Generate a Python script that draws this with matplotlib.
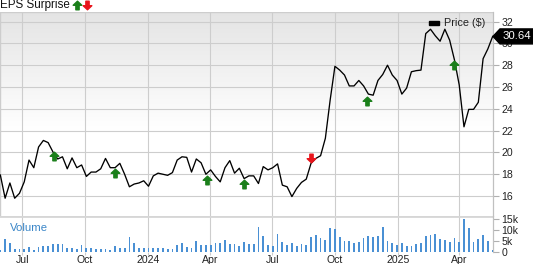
import numpy as np
import pandas as pd
import matplotlib
matplotlib.use("Agg")
import matplotlib.pyplot as plt
import matplotlib.dates as mdates
from matplotlib.path import Path
from matplotlib.patches import Polygon, Rectangle
from matplotlib.lines import Line2D

plt.rcParams['font.family'] = ['Liberation Sans', 'DejaVu Sans']

# ---------------- data ----------------
start_date = "2023-05-30"
price = [17.93, 15.8, 17.2, 15.8, 16.25, 17.3, 19.3, 18.6, 20.5, 21.1, 20.9, 20.05, 19.4, 19.6,
         18.5, 19.5, 18.6, 18.85, 17.8, 18.2, 18.2, 18.5, 19.45, 18.6, 18.6, 19.0, 18.0, 16.85, 17.1,
         17.2, 17.4, 16.9, 17.85, 18.1, 18.0, 17.9, 18.15, 19.3, 19.6, 19.55, 18.2, 19.4, 19.05,
         18.0, 18.4, 17.8, 17.3, 18.6, 19.25, 18.1, 18.55, 17.6, 17.85, 17.85, 17.15, 18.7,
         18.4, 18.6, 18.95, 17.0, 16.85, 15.95, 16.7, 17.25, 17.55, 19.0, 19.45, 19.7, 21.3, 24.8,
         27.9, 27.55, 27.1, 26.1, 26.1, 26.6, 26.1, 25.35, 25.25, 26.6,
         27.15, 28.0, 27.1, 26.6, 25.35, 25.9, 27.4, 27.5, 27.55, 30.9, 31.3, 30.7, 30.2, 31.3,
         30.3, 28.5, 26.2, 22.35, 23.95, 23.95, 24.6, 28.6, 29.5, 30.64]
volume_k = [0.8, 6, 4.2, 1.2, 1.5, 1.4, 2.2, 1.1, 2.2, 2.6, 2.5, 3.5, 3.5, 3.5, 1.7, 1.7, 1.2, 3.2,
            1.7, 1.7, 1.2, 1.2, 1.2, 0.8, 2.8, 1.8, 1.8, 6.9, 4.2, 2, 2, 2, 2, 2, 2, 1.2, 1.2, 3,
            4.2, 2.3, 1.8, 5, 3, 3, 3, 4.3, 4.3, 5.5, 3.8, 3.8, 2.5, 4.5, 3.7, 3.7, 11.5, 7.2,
            3.4, 2.6, 8.1, 4.4, 3.2, 4.1, 2.8, 3.8, 3.2, 6.7, 7.5, 6.3, 5.4, 11, 10.3, 6.9, 4.9,
            4.9, 4.0, 4.4, 6.3, 7.2, 6.7, 7.3, 11.2, 4.9, 4.3, 3.4, 4.3, 2.9, 2.9, 3.7, 4.1, 7.2,
            7.8, 8.0, 5.8, 5.4, 4.4, 6.3, 4.6, 14.9, 10.7, 4.7, 5.7, 7.5, 5.2, 1.1]
dates = pd.date_range(start_date, periods=len(price), freq="7D")

beat_dates = ["2023-08-16", "2023-11-14", "2024-03-27", "2024-05-21", "2024-11-17", "2025-03-24"]
beat_y = [19.67, 18.1, 17.47, 17.1, 24.76, 28.0]
miss_dates = ["2024-08-27"]
miss_y = [19.5]

x_ticks = ["2023-07-01", "2023-10-01", "2024-01-01", "2024-04-01",
           "2024-07-01", "2024-10-01", "2025-01-01", "2025-04-01"]
x_labels = ["Jul", "Oct", "2024", "Apr", "Jul", "Oct", "2025", "Apr"]
price_ticks = [16, 18, 20, 22, 24, 26, 28, 30, 32]
vol_ticks = [0, 5, 10, 15]
vol_labels = ["0", "5k", "10k", "15k"]
last_label = "30.64"

# ---------------- style ----------------
W, H = 533, 264
fig = plt.figure(figsize=(W / 100, H / 100), dpi=100)
grid_c = "#cdcdcd"
green = "#1a7f1a"
red = "#e8141b"
vol_c = "#4a90d4"
tick_fs = 7.6

ax_l, ax_r = 0 / W, 493 / W
p_top, p_bot = 12, 216
v_top, v_bot = 216, 252
ax = fig.add_axes([ax_l, (H - p_bot) / H, ax_r - ax_l, (p_bot - p_top) / H])
axv = fig.add_axes([ax_l, (H - v_bot) / H, ax_r - ax_l, (v_bot - v_top) / H], sharex=ax)

xlim = (pd.Timestamp("2023-05-29 12:00"), pd.Timestamp("2025-05-20 12:00"))

# gradient background
grad = np.linspace(0, 1, 256).reshape(-1, 1)
cvals = np.clip((grad - 0.42) / 0.58, 0, 1)
top_col = np.array([0.895, 0.895, 0.895])
img = 1 - (1 - top_col) * cvals[..., None] * np.ones((1, 1, 3))
img = img.reshape(256, 1, 3)
ax.imshow(img, extent=[0, 1, 0, 1], transform=ax.transAxes, aspect="auto",
          origin="lower", zorder=0)

ax.plot(dates, price, color="black", lw=0.95, zorder=3)
ax.set_xlim(xlim)
ax.set_ylim(14.17, 32.88)

# arrow markers
up = Path([(0, 1), (1, 0.05), (0.38, 0.05), (0.38, -1), (-0.38, -1), (-0.38, 0.05), (-1, 0.05), (0, 1)],
          [Path.MOVETO] + [Path.LINETO] * 6 + [Path.CLOSEPOLY])
down = Path([(0, -1), (1, -0.05), (0.38, -0.05), (0.38, 1), (-0.38, 1), (-0.38, -0.05), (-1, -0.05), (0, -1)],
            [Path.MOVETO] + [Path.LINETO] * 6 + [Path.CLOSEPOLY])
ax.plot(pd.to_datetime(beat_dates), beat_y, ls="none", marker=up, ms=6.2,
        color=green, mec=green, zorder=4)
ax.plot(pd.to_datetime(miss_dates), miss_y, ls="none", marker=down, ms=6.2,
        color=red, mec=red, zorder=4)

for a in (ax, axv):
    for s in a.spines.values():
        s.set_visible(False)
    for t in pd.to_datetime(x_ticks):
        a.axvline(t, color=grid_c, lw=0.8, zorder=1)

for yv in price_ticks:
    ax.axhline(yv, color=grid_c, lw=0.8, zorder=1)
ax.axhline(32.88, color=grid_c, lw=1.0, zorder=1)
ax.axvline(xlim[0], color=grid_c, lw=1.0, zorder=1)

ax.yaxis.tick_right()
ax.set_yticks(price_ticks)
ax.set_yticklabels([str(v) for v in price_ticks])
ax.tick_params(axis="y", length=4, width=0.8, color="#b0b0b0", pad=2, labelsize=tick_fs,
               labelcolor="#222222")
ax.tick_params(axis="x", length=0, labelbottom=False)
ax.plot([1, 1], [0, 1], transform=ax.transAxes, color="#c0c0c0", lw=0.9, clip_on=False, zorder=2)

# volume panel
axv.bar(dates, volume_k, width=2.6, color=vol_c, zorder=3)
axv.set_ylim(0, 16.36)
axv.set_xlim(xlim)
axv.axhline(16.36, color="#d6d6d6", lw=2.0, zorder=2)
axv.yaxis.tick_right()
axv.set_yticks(vol_ticks)
axv.set_yticklabels(vol_labels)
axv.tick_params(axis="y", length=4, width=0.8, color="#b0b0b0", pad=2, labelsize=tick_fs,
                labelcolor="#222222")
axv.set_xticks(pd.to_datetime(x_ticks))
axv.set_xticklabels(x_labels)
axv.tick_params(axis="x", length=2, width=0.8, color=grid_c, pad=0, labelsize=tick_fs,
                labelcolor="#222222")
axv.plot([1, 1], [0, 1], transform=axv.transAxes, color="#c0c0c0", lw=0.9, clip_on=False, zorder=2)
axv.text(10 / 493, 0.67, "Volume", transform=axv.transAxes, color="#3a86c8",
         fontsize=8.2, va="center", ha="left")

# header
fig.text(0 / W, 1 - 5 / H, "EPS Surprise", fontsize=8.4, va="center", ha="left", color="#111111")
fig.add_artist(Line2D([77 / W], [1 - 5 / H], transform=fig.transFigure, marker=up, ms=6.2,
                      color=green, mec=green, ls="none"))
fig.add_artist(Line2D([87 / W], [1 - 5 / H], transform=fig.transFigure, marker=down, ms=6.2,
                      color=red, mec=red, ls="none"))

# legend
fig.add_artist(Rectangle((429 / W, 1 - 25 / H), 10 / W, 3.5 / H, transform=fig.transFigure,
                         color="black"))
fig.text(444 / W, 1 - 23.5 / H, "Price ($)", fontsize=7.8, va="center", ha="left", color="#222222")

# last price label
fig.canvas.draw()
px, py = ax.transData.transform((mdates.date2num(xlim[1]), price[-1]))
hh = 7.5
poly = Polygon([(px, py), (px + 7, py + hh), (W + 5, py + hh), (W + 5, py - hh), (px + 7, py - hh)],
               closed=True, transform=None, color="black", zorder=10)
fig.add_artist(poly)
fig.text((px + 8 + (W - px - 8) / 2) / W, py / H, last_label, color="white", fontsize=8.2,
         ha="center", va="center", zorder=11)

fig.savefig("out.png", dpi=100)
